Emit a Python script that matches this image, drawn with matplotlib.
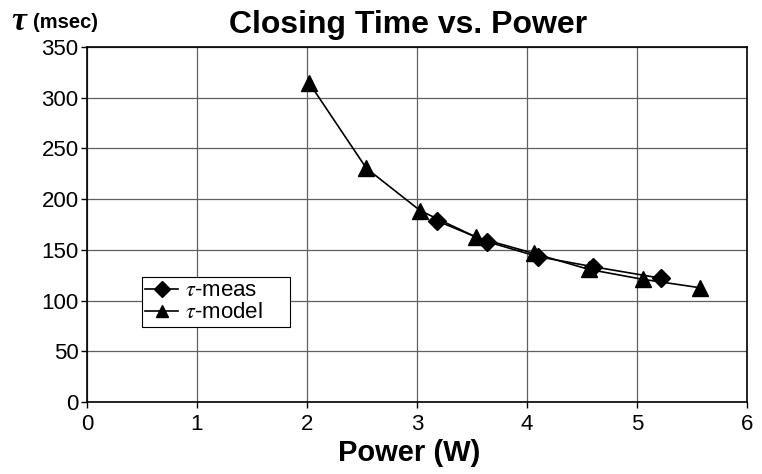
import matplotlib
matplotlib.use("Agg")
import matplotlib.pyplot as plt

plt.rcParams['font.family'] = ['Liberation Sans', 'DejaVu Sans']
plt.rcParams['mathtext.fontset'] = 'stix'

meas_x = [3.18, 3.64, 4.10, 4.60, 5.22]
meas_y = [178.7, 158.0, 143.3, 133.4, 122.0]
model_x = [2.02, 2.54, 3.03, 3.54, 4.06, 4.56, 5.05, 5.57]
model_y = [314.5, 230.4, 188.6, 162.4, 146.6, 130.8, 121.0, 112.7]
x_ticks = [0, 1, 2, 3, 4, 5, 6]
y_ticks = [0, 50, 100, 150, 200, 250, 300, 350]

fig = plt.figure(figsize=(7.62, 4.74), dpi=100)
ax = fig.add_axes([87/762, 1-402/474, 660/762, 355/474])

ax.plot(meas_x, meas_y, color='black', lw=1.2, marker='D', ms=9, label=r'$\tau$-meas', zorder=3)
ax.plot(model_x, model_y, color='black', lw=1.2, marker='^', ms=11, label=r'$\tau$-model', zorder=3)

ax.set_xlim(0, 6)
ax.set_ylim(0, 350)
ax.set_xticks(x_ticks)
ax.set_yticks(y_ticks)
ax.grid(True, color='#606060', lw=0.9)
ax.set_axisbelow(True)
for s in ax.spines.values():
    s.set_color('black')
    s.set_linewidth(1.2)
ax.tick_params(axis='both', labelsize=16, direction='out', length=4, color='black', width=1)
ax.tick_params(axis='x', pad=5)
ax.tick_params(axis='y', pad=2)

fig.text(409/762, 1-453/474, 'Power (W)', ha='center', va='center', fontsize=21, fontweight='bold')
fig.text(0.535, 0.948, 'Closing Time vs. Power', ha='center', va='center', fontsize=23, fontweight='bold')
fig.text(11/762, 0.955, 'τ', fontsize=24, family=['Liberation Serif', 'DejaVu Serif'],
         style='italic', fontweight='bold', va='center', ha='left')
fig.text(33/762, 0.953, '(msec)', fontsize=14.5, fontweight='bold', va='center', ha='left')

leg = ax.legend(loc='lower left', bbox_to_anchor=(0.083, 0.212, 0.224, 0.14), mode='expand',
                fontsize=16, frameon=True,
                fancybox=False, edgecolor='black', framealpha=1, borderpad=0.15,
                handlelength=1.5, handletextpad=0.3, labelspacing=0.05, borderaxespad=0,
                markerscale=0.85)
leg.get_frame().set_linewidth(0.8)

fig.savefig('out.png', dpi=100)
